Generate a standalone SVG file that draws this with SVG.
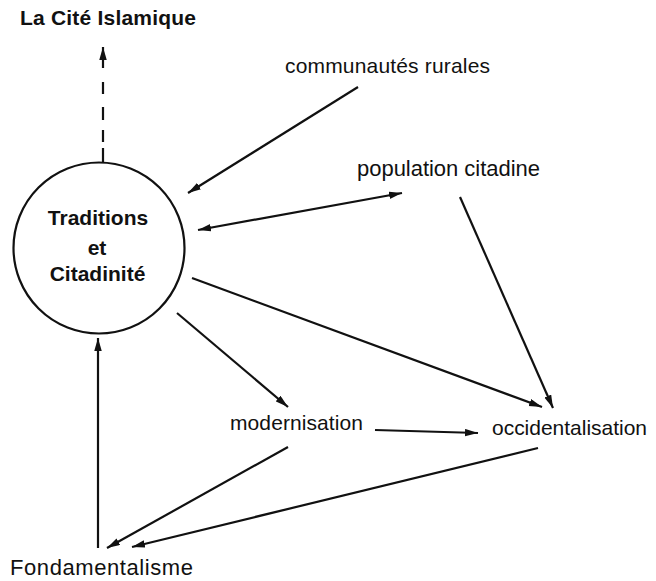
<svg xmlns="http://www.w3.org/2000/svg" width="656" height="581" viewBox="0 0 656 581">
<style>
text{font-family:"Liberation Sans",Arial,sans-serif;font-size:21px;fill:#111}
.b{font-weight:bold}
.c{fill:none;stroke:#111;stroke-width:2.2}
</style>
<defs>
<marker id="ah" markerUnits="userSpaceOnUse" markerWidth="14" markerHeight="8" refX="13" refY="3.75" orient="auto-start-reverse">
<path d="M0,0 L13,3.75 L0,7.5 z" fill="#111"/>
</marker>
</defs>
<rect width="656" height="581" fill="#fff"/>
<g id="connectors">
<path class="c" d="M103,162 L103,148 M103,142 L103,130 M103,120 L103,107 M103,94 L103,82"/>
<line class="c" x1="103" y1="68" x2="103" y2="47" marker-end="url(#ah)"/>
<line class="c" x1="358" y1="87" x2="188" y2="193" marker-end="url(#ah)"/>
<line class="c" x1="198" y1="230" x2="402" y2="193" marker-start="url(#ah)" marker-end="url(#ah)"/>
<line class="c" x1="460" y1="197" x2="553" y2="408" marker-end="url(#ah)"/>
<line class="c" x1="192" y1="278" x2="542" y2="407" marker-end="url(#ah)"/>
<line class="c" x1="177" y1="313" x2="288" y2="407" marker-end="url(#ah)"/>
<line class="c" x1="375" y1="430" x2="478" y2="433" marker-end="url(#ah)"/>
<line class="c" x1="288" y1="447" x2="107" y2="548" marker-end="url(#ah)"/>
<line class="c" x1="538" y1="448" x2="132" y2="547" marker-end="url(#ah)"/>
<line class="c" x1="98" y1="548" x2="98" y2="338" marker-end="url(#ah)"/>
</g>
<g id="cite"><text class="b" x="20" y="25" textLength="176">La Cité Islamique</text></g>
<g id="communautes"><text x="285" y="73" textLength="205">communautés rurales</text></g>
<g id="population"><text x="357" y="176" style="font-size:22px" textLength="183">population citadine</text></g>
<g id="traditions">
<circle class="c" cx="99" cy="248" r="85.5"/>
<text class="b" x="98" y="225" text-anchor="middle">Traditions</text>
<text class="b" x="97" y="255" text-anchor="middle">et</text>
<text class="b" x="97.5" y="281" text-anchor="middle">Citadinité</text>
</g>
<g id="modernisation"><text x="230" y="430" textLength="133">modernisation</text></g>
<g id="occidentalisation"><text x="492" y="435" textLength="155">occidentalisation</text></g>
<g id="fondamentalisme"><text x="10" y="575" style="font-size:22px" textLength="183">Fondamentalisme</text></g>
</svg>
